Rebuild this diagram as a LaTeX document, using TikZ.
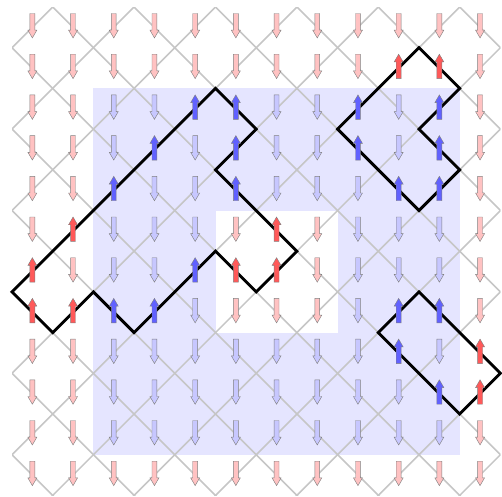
\documentclass[tikz,border=0pt]{standalone}
\usepackage{tikz}

% edges whose spin is flipped (along the loops)
\foreach \x/\y in {5/2,5/3,5/4,6/5,6/6,5/6,4/6,3/7,2/7,1/7,0/7,0/6,1/5,2/4,3/3,4/2,
                   10/1,10/2,10/3,10/4,9/4,8/3,8/2,9/1,
                   10/7,11/8,11/9,10/9,9/8,9/7}{%
  \expandafter\gdef\csname up-\x-\y\endcsname{1}}

\tikzset{
  spin/.pic={
    \filldraw (-0.06,-0.3) -- (0.06,-0.3) -- (0.06,0.11) -- (0.11,0.11)
      -- (0,0.3) -- (-0.11,0.11) -- (-0.06,0.11) -- cycle;
  }
}

\begin{document}
\begin{tikzpicture}[
    y=-1cm,
    region/.style={fill=blue!10},
    hole/.style={fill=white},
    lattice/.style={draw=gray!45, line width=1.1pt},
    loopline/.style={draw=black, line width=2pt},
    spinbase/.style={draw=black!50, line width=0.3pt},
    dnout/.style={spinbase, fill=red!24},
    upout/.style={spinbase, fill=red!65, rotate=180},
    dnin/.style={spinbase, fill=blue!22},
    upin/.style={spinbase, fill=blue!62, rotate=180}
  ]
  \useasboundingbox (-0.795,-0.672) rectangle (11.539,11.539);

  % shaded region with a hole
  \fill[region] (1.5,1.5) rectangle (10.5,10.5);
  \fill[hole] (4.5,4.5) rectangle (7.5,7.5);

  % diagonal lattice
  \begin{scope}
    \clip (-0.5,-0.5) rectangle (11.5,11.5);
    \foreach \c in {0,2,...,22}
      \draw[lattice] ({\c+1},-1) -- (-1,{\c+1});
    \foreach \c in {-11,-9,...,11}
      \draw[lattice] (-1,{-1-(\c)}) -- (13,{13-(\c)});
  \end{scope}

  % loops
  \draw[loopline] (4.5,1.5) -- (5.5,2.5) -- (4.5,3.5) -- (6.5,5.5) -- (5.5,6.5)
    -- (4.5,5.5) -- (2.5,7.5) -- (1.5,6.5) -- (0.5,7.5) -- (-0.5,6.5) -- cycle;
  \draw[loopline] (9.5,0.5) -- (10.5,1.5) -- (9.5,2.5) -- (10.5,3.5) -- (9.5,4.5)
    -- (7.5,2.5) -- cycle;
  \draw[loopline] (9.5,6.5) -- (11.5,8.5) -- (10.5,9.5) -- (8.5,7.5) -- cycle;

  % spins
  \foreach \i in {0,...,11}{
    \foreach \j in {0,...,11}{
      \pgfmathtruncatemacro\inside{(\i>1)*(\i<11)*(\j>1)*(\j<11)*(1-(\i>4)*(\i<8)*(\j>4)*(\j<8))}
      \ifcsname up-\i-\j\endcsname \def\dir{up}\else \def\dir{dn}\fi
      \ifnum\inside=1 \def\reg{in}\else \def\reg{out}\fi
      \pic[\dir\reg] at (\i,{\j-0.04}) {spin};
    }
  }

\end{tikzpicture}
\end{document}
